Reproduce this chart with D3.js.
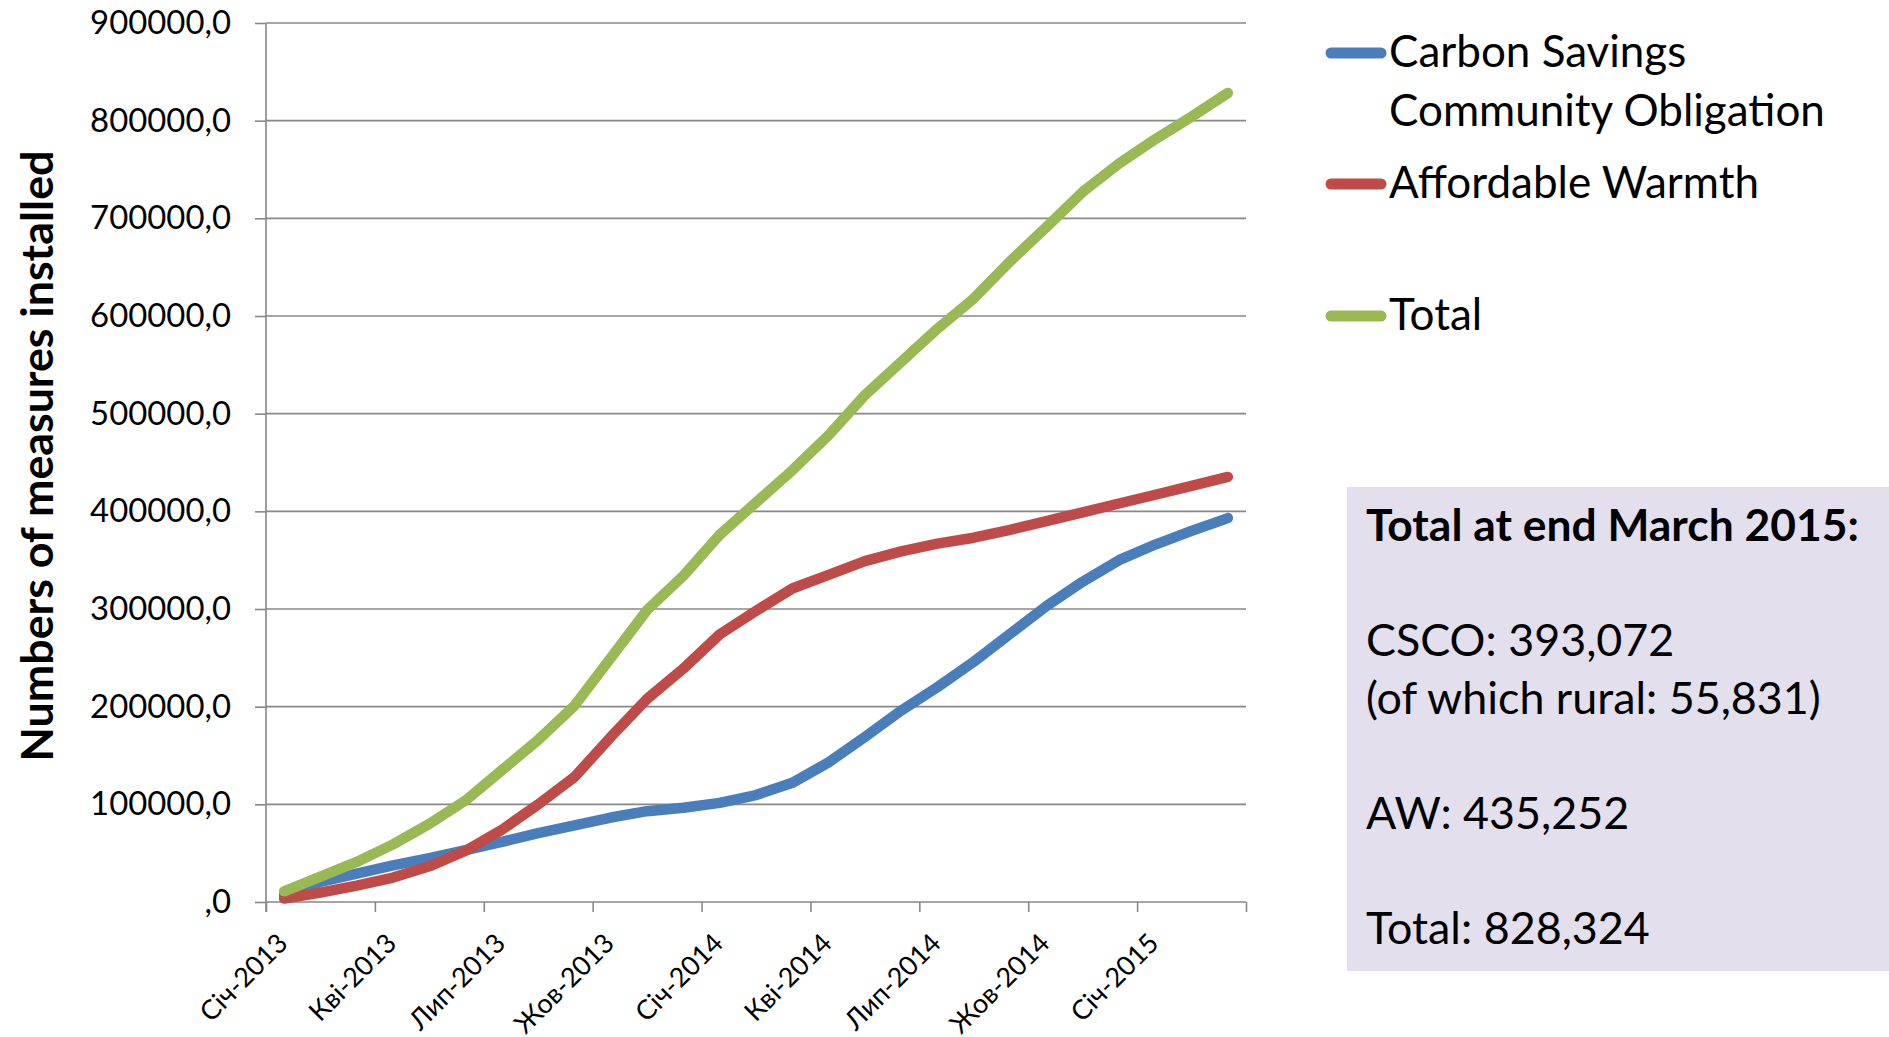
<!DOCTYPE html>
<html>
<head>
<meta charset="utf-8">
<script src="https://cdn.jsdelivr.net/npm/d3@7"></script>
<style>
  html, body { margin: 0; padding: 0; background: #fff; }
  svg { display: block; }
  text { font-family: Lato, "Open Sans", sans-serif; fill: #000; }
</style>
</head>
<body>
<svg id="chart" width="1889" height="1037"></svg>
<script>
// ---- data ----
const months = [
  "Січ-2013","Лют-2013","Бер-2013","Кві-2013","Тра-2013","Чер-2013",
  "Лип-2013","Сер-2013","Вер-2013","Жов-2013","Лис-2013","Гру-2013",
  "Січ-2014","Лют-2014","Бер-2014","Кві-2014","Тра-2014","Чер-2014",
  "Лип-2014","Сер-2014","Вер-2014","Жов-2014","Лис-2014","Гру-2014",
  "Січ-2015","Лют-2015","Бер-2015"
];
const csco = [7000, 20500, 29000, 37500, 45000, 53000, 61500, 70500, 78500, 86500,
  93000, 96500, 101500, 109500, 122000, 143000, 169000, 196000, 220000, 246000,
  274500, 303000, 328000, 350000, 366000, 380000, 393072];
const aw = [3500, 9600, 16700, 25000, 36500, 52500, 74000, 100000, 128000, 169000,
  208000, 239000, 274000, 298000, 321000, 335000, 349000, 359000, 367000, 373000,
  381000, 390000, 399000, 408000, 417000, 426000, 435252];
const total = [11000, 26000, 41000, 59000, 80000, 104000, 135000, 166000, 201000, 250000,
  299000, 334000, 376000, 409000, 442000, 478000, 519000, 553000, 587000, 618000,
  656000, 691000, 727000, 756000, 781000, 804000, 828324];
const seriesNames = ["Carbon Savings\nCommunity Obligation", "Affordable Warmth", "Total"];
const yTicks = [0, 100000, 200000, 300000, 400000, 500000, 600000, 700000, 800000, 900000];
const labelEvery = 3;
const boxLines = [
  {t: "Total at end March 2015:", bold: true},
  {t: ""},
  {t: "CSCO: 393,072"},
  {t: "(of which rural: 55,831)"},
  {t: ""},
  {t: "AW: 435,252"},
  {t: ""},
  {t: "Total: 828,324"}
];

// ---- layout ----
const svg = d3.select("#chart");
const L = 266, R = 1246, T = 23, B = 902;
const colors = ["#4A7EBB", "#BE4B48", "#98B954"];
const gridColor = "#888888";

function fit(sel, target) {
  const w = sel.node().getComputedTextLength();
  const fs = parseFloat(sel.attr("font-size"));
  return fs * target / w;
}

const xB = d3.scaleLinear().domain([0, months.length]).range([L, R]);
const xC = i => xB(i + 0.5);
const y = d3.scaleLinear().domain([0, 900000]).range([B, T]);

// gridlines
svg.append("g").selectAll("line")
  .data(yTicks.filter(d => d > 0))
  .join("line")
  .attr("x1", L).attr("x2", R)
  .attr("y1", d => y(d)).attr("y2", d => y(d))
  .attr("stroke", gridColor).attr("stroke-width", 1.6);

// y axis
const yAxis = svg.append("g").attr("transform", `translate(${L},0)`)
  .call(d3.axisLeft(y).tickValues(yTicks).tickSize(11).tickPadding(24)
    .tickFormat(d => d === 0 ? ",0" : d + ",0"));
yAxis.select(".domain").attr("stroke", gridColor).attr("stroke-width", 1.6)
  .attr("d", `M0,${T}V${B + 10}`);
yAxis.selectAll(".tick line").attr("stroke", gridColor).attr("stroke-width", 1.6);
const yLbl = yAxis.selectAll(".tick text").attr("font-family", "Lato, sans-serif")
  .attr("font-size", 32).attr("fill", "#000");
const y9 = yAxis.selectAll(".tick text").filter(d => d === 900000);
const yfs = fit(y9, 141);
yLbl.attr("font-size", yfs);

// x axis
const xAxis = svg.append("g").attr("transform", `translate(0,${B})`)
  .call(d3.axisBottom(xB).tickValues(d3.range(0, months.length + 1, labelEvery))
    .tickSize(10).tickFormat(""));
xAxis.select(".domain").attr("stroke", gridColor).attr("stroke-width", 1.6)
  .attr("d", `M${L},0H${R}`);
xAxis.selectAll(".tick line").attr("stroke", gridColor).attr("stroke-width", 1.6);

const xLabels = svg.append("g").selectAll("text")
  .data(months.map((m, i) => ({m, i})).filter(d => d.i % labelEvery === 0))
  .join("text")
  .attr("transform", d => `translate(${xC(d.i) + 5},${B + 43}) rotate(-45)`)
  .attr("text-anchor", "end")
  .attr("font-size", 28)
  .text(d => d.m);
const xfs = fit(xLabels.filter(d => d.i === 3), 110);
xLabels.attr("font-size", xfs);

// y title
const yt = svg.append("text")
  .attr("transform", `translate(53,456) rotate(-90)`)
  .attr("text-anchor", "middle")
  .attr("font-weight", "bold")
  .attr("font-size", 40)
  .text("Numbers of measures installed");
yt.attr("font-size", fit(yt, 611));

// lines
const lineGen = d3.line().x((d, i) => xC(i)).y(d => y(d));
[csco, aw, total].forEach((s, k) => {
  svg.append("path").datum(s)
    .attr("d", lineGen)
    .attr("fill", "none")
    .attr("stroke", colors[k])
    .attr("stroke-width", 10.5)
    .attr("stroke-linejoin", "round")
    .attr("stroke-linecap", "round");
});

// legend
const legY = [53, 184, 316];
const leg = svg.append("g");
const legTexts = [];
seriesNames.forEach((name, k) => {
  leg.append("line")
    .attr("x1", 1331).attr("x2", 1381)
    .attr("y1", legY[k]).attr("y2", legY[k])
    .attr("stroke", colors[k]).attr("stroke-width", 11)
    .attr("stroke-linecap", "round");
  name.split("\n").forEach((ln, j) => {
    legTexts.push(leg.append("text")
      .attr("x", 1389).attr("y", legY[k] + 14 + j * 59)
      .attr("font-size", 40).text(ln));
  });
});
const lfs = fit(legTexts[1], 436);
legTexts.forEach(t => t.attr("font-size", lfs));

// text box
svg.append("rect")
  .attr("x", 1347).attr("y", 487).attr("width", 1889 - 1347).attr("height", 971 - 487)
  .attr("fill", "#E4DFEC");
const bx = svg.append("g");
const bTexts = boxLines.map((d, i) => bx.append("text")
  .attr("x", 1366).attr("y", 541 + i * 57.6)
  .attr("font-size", 40)
  .attr("font-weight", d.bold ? "bold" : null)
  .text(d.t));
const bfs = fit(bTexts[3], 455);
bTexts.forEach((t, i) => { if (!boxLines[i].bold) t.attr("font-size", bfs); });
bTexts[0].attr("font-size", fit(bTexts[0], 493));
</script>
</body>
</html>
